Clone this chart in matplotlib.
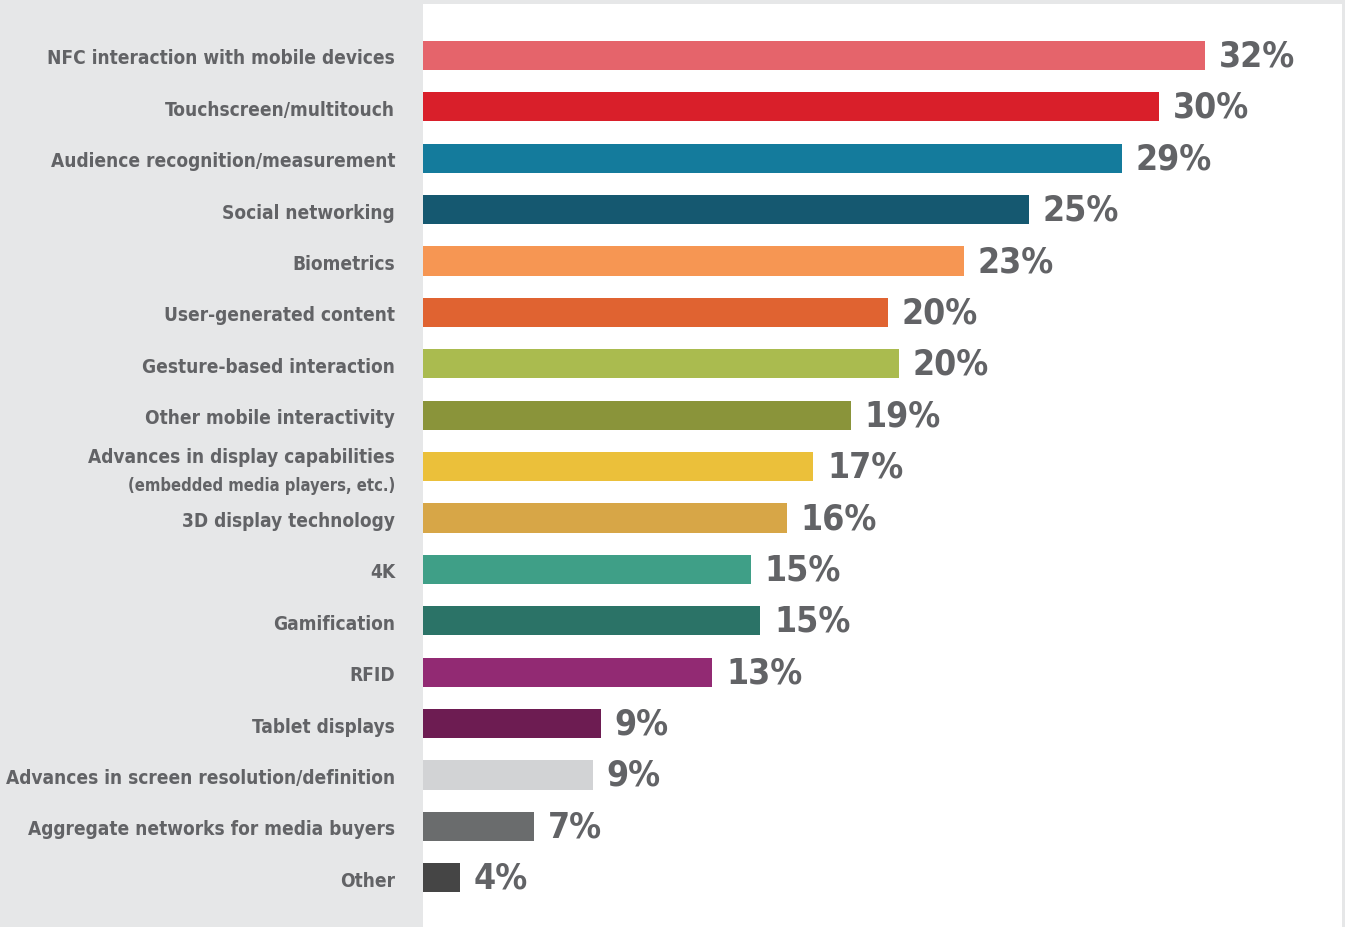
import matplotlib
matplotlib.use("Agg")
import matplotlib.pyplot as plt
import matplotlib.transforms as mtransforms
from matplotlib import font_manager

# data (bar lengths estimated, labels as printed)
categories = [
    "NFC interaction with mobile devices",
    "Touchscreen/multitouch",
    "Audience recognition/measurement",
    "Social networking",
    "Biometrics",
    "User-generated content",
    "Gesture-based interaction",
    "Other mobile interactivity",
    "Advances in display capabilities",
    "3D display technology",
    "4K",
    "Gamification",
    "RFID",
    "Tablet displays",
    "Advances in screen resolution/definition",
    "Aggregate networks for media buyers",
    "Other",
]
sublabels = {8: "(embedded media players, etc.)"}
bar_values = [32.0, 30.3, 28.9, 25.4, 22.95, 20.1, 20.5, 18.7, 17.3, 16.3,
              14.95, 15.3, 13.5, 9.3, 9.0, 6.8, 4.0]
shown_pct = [32, 30, 29, 25, 23, 20, 20, 19, 17, 16, 15, 15, 13, 9, 9, 7, 4]
colors = ["#e5646b", "#d91f2a", "#147b9c", "#155870", "#f69653", "#e06331",
          "#aabb4f", "#8a943a", "#ebc03a", "#d7a647", "#3f9f87", "#2b7367",
          "#922a73", "#6d1c52", "#d2d3d5", "#6a6c6d", "#454545"]

# pick a narrow font if there is one
fonts = font_manager.fontManager.ttflist
names = {f.name for f in fonts}
stretch = "normal"
if "Liberation Sans Narrow" in names:
    family = "Liberation Sans Narrow"
elif any(f.name == "DejaVu Sans" and f.stretch == "condensed" for f in fonts):
    family = "DejaVu Sans"
    stretch = "condensed"
elif "Roboto Condensed" in names:
    family = "Roboto Condensed"
else:
    family = "Roboto"
plt.rcParams["font.family"] = [family, "DejaVu Sans"]
plt.rcParams["font.stretch"] = stretch

TEXT = "#626366"
W, H = 1345, 928
fig = plt.figure(figsize=(W / 100, H / 100), dpi=100, facecolor="#e6e7e8")
ax = fig.add_axes([423 / W, 0, (1342 - 423) / W, (H - 5) / H])
ax.set_facecolor("white")


def fit_size(s, width_px, size=15.0):
    # scale a font size so the text is about width_px wide
    t = fig.text(0, 0, s, fontsize=size, fontweight="bold")
    w = t.get_window_extent(renderer=fig.canvas.get_renderer()).width
    t.remove()
    return size * width_px / w


lab_size = fit_size(categories[0], 348)
sub_size = fit_size(sublabels[8], 268)
pct_size = fit_size("32%", 77)

ypos = list(range(len(categories)))
ax.barh(ypos, bar_values, height=0.57, color=colors)

ax.set_xlim(2.62, 2.62 + 919 / 26.6)
ax.set_ylim(923 / 51.4 - 1.0, -1.0)
ax.set_xticks([])
ax.set_yticks([])
for s in ax.spines.values():
    s.set_visible(False)

for y, v, p in zip(ypos, bar_values, shown_pct):
    ax.annotate(f"{p}%", (v, y), xytext=(10, 0), textcoords="offset points",
                va="center", ha="left", fontsize=pct_size, fontweight="bold", color=TEXT)

# category labels to the left of the plot area
trans = mtransforms.blended_transform_factory(ax.transAxes, ax.transData)
offs = mtransforms.ScaledTranslation(-28 / 100, 0, fig.dpi_scale_trans)
for y, name in zip(ypos, categories):
    if y in sublabels:
        ax.text(0, y - 0.2, name, transform=trans + offs, ha="right", va="center",
                fontsize=lab_size, fontweight="bold", color=TEXT, clip_on=False)
        ax.text(0, y + 0.36, sublabels[y], transform=trans + offs, ha="right", va="center",
                fontsize=sub_size, fontweight="bold", color=TEXT, clip_on=False)
    else:
        ax.text(0, y + 0.05, name, transform=trans + offs, ha="right", va="center",
                fontsize=lab_size, fontweight="bold", color=TEXT, clip_on=False)

fig.savefig("out.png", dpi=100, facecolor=fig.get_facecolor())
